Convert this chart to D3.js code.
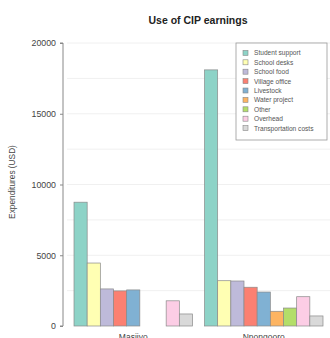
<!DOCTYPE html>
<html>
<head>
<meta charset="utf-8">
<script src="https://cdn.jsdelivr.net/npm/d3@7"></script>
<style>
  html, body { margin: 0; padding: 0; background: #fff; }
  svg { display: block; font-family: "Liberation Sans", Arial, sans-serif; }
</style>
</head>
<body>
<svg id="chart" width="330" height="338"></svg>
<script>
// Village groups and spending categories
const villages = ["Masiiyo", "Nnongooro"];
const categories = ["Student support", "School desks", "School food", "Village office",
  "Livestock", "Water project", "Other", "Overhead", "Transportation costs"];
const colors = ["#8DD3C7", "#FFFFB3", "#BEBADA", "#FB8072", "#80B1D3",
  "#FDB462", "#B3DE69", "#FCCDE5", "#D9D9D9"];

// Expenditures (USD), one value per category
const masiiyo = [8750, 4450, 2620, 2480, 2550, 0, 0, 1780, 850];
const nnongooro = [18100, 3200, 3180, 2740, 2400, 1040, 1270, 2070, 710];
const yTicks = [0, 5000, 10000, 15000, 20000];
const gridValues = [2500, 5000, 7500, 10000, 12500, 15000, 17500, 20000];

const seriesByVillage = { "Masiiyo": masiiyo, "Nnongooro": nnongooro };

const svg = d3.select("#chart");

const y = d3.scaleLinear().domain([0, 20000]).range([326, 43]);
const x0 = d3.scaleBand().domain(villages).range([74, 323]).paddingInner(0.092).paddingOuter(0);
const x1 = d3.scaleBand().domain(categories).range([0, x0.bandwidth()]).padding(0);
const color = d3.scaleOrdinal().domain(categories).range(colors);

// faint horizontal grid
svg.append("g")
  .selectAll("line")
  .data(gridValues)
  .join("line")
  .attr("x1", 67).attr("x2", 330)
  .attr("y1", d => y(d)).attr("y2", d => y(d))
  .attr("stroke", "#f0f0f0")
  .attr("stroke-width", 1);

// title
svg.append("text")
  .attr("x", 198).attr("y", 24)
  .attr("text-anchor", "middle")
  .attr("font-size", 10.5)
  .attr("font-weight", "bold")
  .attr("fill", "#222")
  .text("Use of CIP earnings");

// y axis
const yAxis = d3.axisLeft(y).tickValues(yTicks).tickSize(3).tickPadding(4).tickFormat(d3.format("d"));
const ga = svg.append("g").attr("transform", "translate(63,0)").call(yAxis);
ga.select(".domain").attr("stroke", "#888").attr("d", `M-3,${y(20000)}H0V${y(0)}H-3`);
ga.selectAll(".tick line").attr("stroke", "#888");
ga.selectAll(".tick text").attr("font-size", 8.8).attr("fill", "#444")
  .attr("font-family", "Liberation Sans, Arial, sans-serif");

// y axis title
svg.append("text")
  .attr("transform", "translate(15,182) rotate(-90)")
  .attr("text-anchor", "middle")
  .attr("font-size", 8.3)
  .attr("fill", "#444")
  .text("Expenditures (USD)");

// bars
const groups = svg.append("g")
  .selectAll("g")
  .data(villages)
  .join("g")
  .attr("transform", d => `translate(${x0(d)},0)`);

groups.selectAll("rect")
  .data(v => categories.map((c, i) => ({ cat: c, value: seriesByVillage[v][i] })).filter(d => d.value > 0))
  .join("rect")
  .attr("x", d => x1(d.cat))
  .attr("width", x1.bandwidth())
  .attr("y", d => y(d.value))
  .attr("height", d => y(0) - y(d.value))
  .attr("fill", d => color(d.cat))
  .attr("stroke", "#8a8a8a")
  .attr("stroke-width", 0.7);

// group labels (sit at the bottom edge of the drawing)
svg.append("g")
  .selectAll("text")
  .data(villages)
  .join("text")
  .attr("x", d => x0(d) + x0.bandwidth() / 2)
  .attr("y", 340)
  .attr("text-anchor", "middle")
  .attr("font-size", 8.5)
  .attr("fill", "#444")
  .text(d => d);

// legend
const legend = svg.append("g").attr("transform", "translate(236,43)");
legend.append("rect")
  .attr("x", 0).attr("y", 0).attr("width", 91).attr("height", 97)
  .attr("fill", "#fff").attr("stroke", "#999").attr("stroke-width", 0.8);
const items = legend.selectAll("g.item")
  .data(categories)
  .join("g")
  .attr("class", "item")
  .attr("transform", (d, i) => `translate(7,${10 + i * 9.4})`);
items.append("rect")
  .attr("x", 0).attr("y", -2.6).attr("width", 5).attr("height", 5)
  .attr("fill", d => color(d)).attr("stroke", "#888").attr("stroke-width", 0.6);
items.append("text")
  .attr("x", 11).attr("y", 0)
  .attr("dy", "0.35em")
  .attr("font-size", 6.6)
  .attr("fill", "#555")
  .text(d => d);
</script>
</body>
</html>
